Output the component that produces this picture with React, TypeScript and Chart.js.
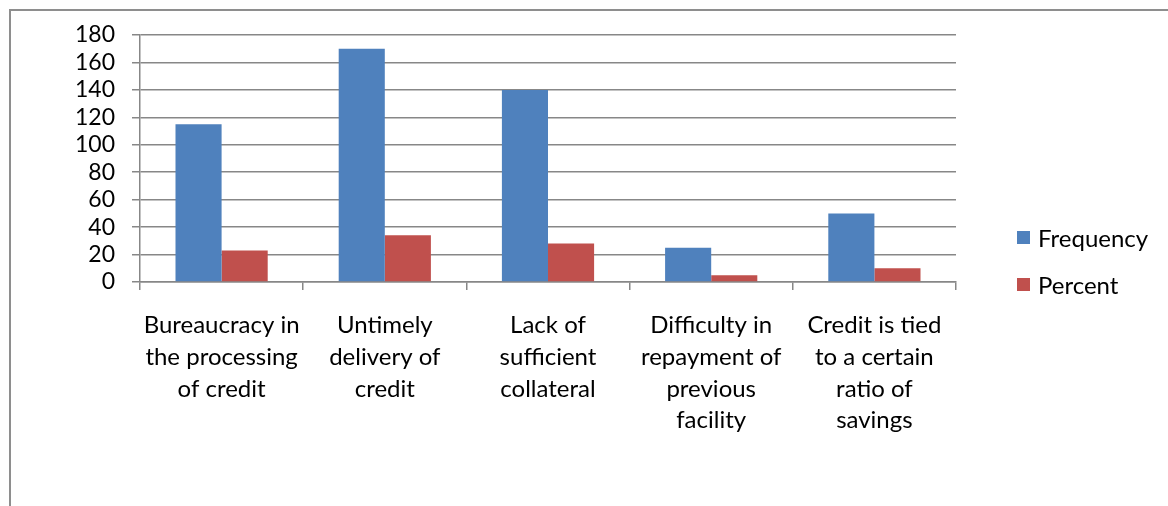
import React, { useEffect, useRef } from "react";
import { Chart, registerables } from "chart.js";

Chart.register(...registerables);

const categories: string[][] = [
  ["Bureaucracy in", "the processing", "of credit"],
  ["Untimely", "delivery of", "credit"],
  ["Lack of", "sufficient", "collateral"],
  ["Difficulty in", "repayment of", "previous", "facility"],
  ["Credit is tied", "to a certain", "ratio of", "savings"],
];
const frequency: number[] = [115, 170, 140, 25, 50];
const percent: number[] = [23, 34, 28, 5, 10];
const seriesNames: string[] = ["Frequency", "Percent"];
const seriesColors: string[] = ["#4F81BD", "#C0504D"];

const FONT = "Lato, 'Open Sans', sans-serif";

const legendPlugin = {
  id: "customLegend",
  afterDraw(chart: any) {
    const ctx = chart.ctx;
    const ds = chart.data.datasets;
    ctx.save();
    ctx.font = `24px ${FONT}`;
    ctx.textBaseline = "middle";
    ctx.textAlign = "left";
    const startY = 226;
    const gap = 47;
    ds.forEach((d: any, i: number) => {
      const cy = startY + i * gap;
      ctx.fillStyle = d.backgroundColor;
      ctx.fillRect(1005, cy - 7, 13, 13);
      ctx.fillStyle = "#000";
      ctx.fillText(d.label, 1026, cy + 1);
    });
    ctx.restore();
  },
};

export default function App() {
  const ref = useRef<HTMLCanvasElement | null>(null);
  useEffect(() => {
    if (!ref.current) return;
    const chart = new Chart(ref.current, {
      type: "bar",
      data: {
        labels: categories,
        datasets: [
          { label: seriesNames[0], data: frequency, backgroundColor: seriesColors[0], categoryPercentage: 0.565, barPercentage: 1 },
          { label: seriesNames[1], data: percent, backgroundColor: seriesColors[1], categoryPercentage: 0.565, barPercentage: 1 },
        ],
      },
      options: {
        animation: false,
        responsive: false,
        maintainAspectRatio: false,
        layout: { padding: { left: 0, top: 23, right: 212, bottom: 0 } },
        plugins: {
          legend: { display: false },
          tooltip: { enabled: false },
          title: { display: false },
        },
        scales: {
          x: {
            grid: { drawOnChartArea: false, offset: true, tickLength: 8, color: "#878787", lineWidth: 1.5 },
            border: { color: "#878787", width: 1.5 },
            ticks: {
              color: "#000",
              font: { family: FONT, size: 24, lineHeight: 1.33 },
              padding: 19,
              maxRotation: 0,
              autoSkip: false,
            },
            afterFit: (s: any) => {
              s.height = 224;
            },
          },
          y: {
            min: 0,
            max: 180,
            ticks: {
              stepSize: 20,
              autoSkip: false,
              color: "#000",
              font: { family: FONT, size: 23 },
              padding: 17,
            },
            grid: { color: "#878787", lineWidth: 1.5, tickLength: 8 },
            border: { color: "#878787", width: 1.5 },
            afterFit: (s: any) => {
              s.width = 128;
              s.paddingTop = 0;
              s.paddingBottom = 0;
            },
          },
        },
      },
      plugins: [legendPlugin],
    });
    return () => chart.destroy();
  }, []);

  return (
    <div style={{ position: "absolute", left: 0, top: 0, width: 1168, height: 506, overflow: "hidden", background: "#fff" }}>
      <div
        style={{
          position: "absolute",
          left: 9,
          top: 9,
          width: 1200,
          height: 600,
          borderLeft: "2px solid #8e8e8e",
          borderTop: "2px solid #8e8e8e",
        }}
      />
      <canvas ref={ref} width={1156} height={494} style={{ position: "absolute", left: 12, top: 12, width: 1156, height: 494 }} />
    </div>
  );
}
